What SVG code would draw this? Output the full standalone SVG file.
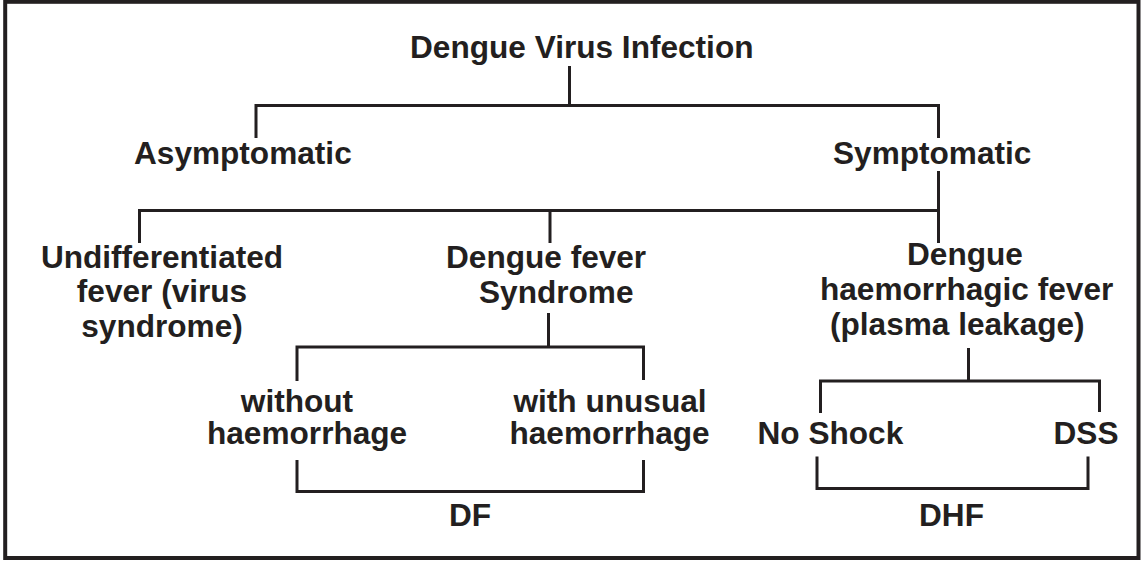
<svg xmlns="http://www.w3.org/2000/svg" width="1141" height="561" viewBox="0 0 1141 561">
<style>
text{font-family:"Liberation Sans",Arial,sans-serif;font-weight:bold;font-size:31.6px;fill:#231f20}
.c{fill:none;stroke:#231f20;stroke-width:3}
</style>
<rect x="5.2" y="1.8" width="1133.3" height="556.2" fill="#ffffff" stroke="#231f20" stroke-width="4"/>
<g id="connectors">
<path class="c" d="M569.5 66V105.5"/>
<path class="c" d="M256 138V105.5H938.5V138"/>
<path class="c" d="M938.5 171V243"/>
<path class="c" d="M139.5 243V210.5H938.5"/>
<path class="c" d="M550 210.5V243"/>
<path class="c" d="M548.5 313V347"/>
<path class="c" d="M297 381V347H643.5V380"/>
<path class="c" d="M968.5 348V381"/>
<path class="c" d="M820.5 413V381H1099.5V412"/>
<path class="c" d="M297 460V491.5H643.5V460"/>
<path class="c" d="M817 456.5V488.5H1088V456.5"/>
</g>
<g id="root"><text x="410" y="58">Dengue Virus Infection</text></g>
<g id="asymptomatic"><text x="134" y="164">Asymptomatic</text></g>
<g id="symptomatic"><text x="833" y="164">Symptomatic</text></g>
<g id="undifferentiated"><text x="162" y="267.5" text-anchor="middle">Undifferentiated</text><text x="162" y="302" text-anchor="middle">fever (virus</text><text x="162" y="336.5" text-anchor="middle">syndrome)</text></g>
<g id="dengue-fever-syndrome"><text x="446" y="268">Dengue fever</text><text x="479" y="302.5">Syndrome</text></g>
<g id="dhf-node"><text x="907" y="265">Dengue</text><text x="820" y="300">haemorrhagic fever</text><text x="830" y="335">(plasma leakage)</text></g>
<g id="without"><text x="297" y="411.5" text-anchor="middle">without</text><text x="207" y="443.5">haemorrhage</text></g>
<g id="with"><text x="513.5" y="411.5">with unusual</text><text x="509.5" y="443.5">haemorrhage</text></g>
<g id="no-shock"><text x="757.5" y="443.5">No Shock</text></g>
<g id="dss"><text x="1053.5" y="443.5">DSS</text></g>
<g id="df"><text x="470" y="525.5" text-anchor="middle">DF</text></g>
<g id="dhf"><text x="951.5" y="525.5" text-anchor="middle">DHF</text></g>
</svg>
